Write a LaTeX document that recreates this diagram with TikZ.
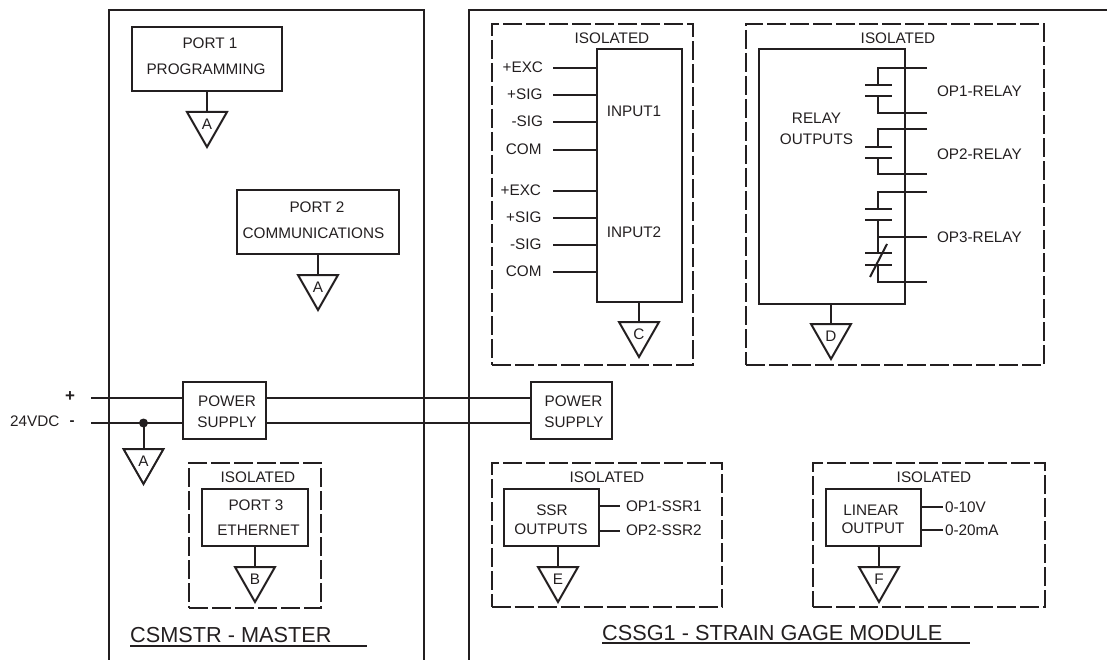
\documentclass[tikz,border=0pt]{standalone}
\usepackage{fontspec}
\setmainfont{Liberation Sans}
\definecolor{ink}{HTML}{231F20}
\tikzset{
  wire/.style={draw=ink,line width=2pt,line cap=butt},
  boxn/.style={draw=ink,line width=2pt,rectangle,inner sep=0pt,outer sep=0pt,line join=miter},
  isol/.style={boxn,dash pattern=on 19pt off 4pt},
  lab/.style={text=ink,font=\fontsize{15.3pt}{16pt}\selectfont,inner sep=0pt,outer sep=0pt},
  labr/.style={lab,anchor=east},
  labl/.style={lab,anchor=west},
  ttl/.style={text=ink,font=\fontsize{21.7pt}{23pt}\selectfont,inner sep=0pt,anchor=west},
  trishape/.style={draw=ink,line width=2pt,line join=miter},
}
% triangle: name, x, y of the top side, letter
\newcommand{\gndtri}[4]{%
  \coordinate (#1) at (#2,#3);
  \draw[trishape] (#1) ++(-20,0) -- ++(40,0) -- ++(-20,35) -- cycle;
  \node[lab] (#1lab) at ([yshift=-12pt]#1) {#4};
}
\begin{document}
\begin{tikzpicture}[x=1pt,y=-1pt]
\useasboundingbox (0,0) rectangle (1107,660);
% enclosures
\coordinate (mbl) at (108.5,660);
\coordinate (mtl) at (108.5,10);
\coordinate (mtr) at (424,10);
\coordinate (mbr) at (424,660);
\draw[wire,line join=miter] (mbl) -- (mtl) -- (mtr) -- (mbr);
\coordinate (sbl) at (468.5,660);
\coordinate (stl) at (468.5,10);
\coordinate (str) at (1107,10);
\draw[wire,line join=miter] (sbl) -- (stl) -- (str);

% Port 1
\node[boxn,minimum width=150pt,minimum height=64pt] (p1) at (207,59) {};
\node[lab] (p1a) at (210,43) {PORT 1};
\node[lab] (p1b) at (206,69.5) {PROGRAMMING};
\gndtri{t1}{207}{112}{A}
\draw[wire] (p1.south -| t1) -- (t1);
% Port 2
\node[boxn,minimum width=162pt,minimum height=64pt] (p2) at (318,222) {};
\node[lab] (p2a) at (317,207) {PORT 2};
\node[lab] (p2b) at (313.5,233) {COMMUNICATIONS};
\gndtri{t2}{318}{275}{A}
\draw[wire] (p2.south -| t2) -- (t2);

% Power
\node[boxn,minimum width=83pt,minimum height=57pt] (ps1) at (224.5,410.5) {};
\node[lab] (ps1a) at (227,401) {POWER};
\node[lab] (ps1b) at (227,422) {SUPPLY};
\node[boxn,minimum width=81pt,minimum height=57pt] (ps2) at (571.5,410.5) {};
\node[lab] (ps2a) at (573.5,401) {POWER};
\node[lab] (ps2b) at (574,422) {SUPPLY};
\coordinate (pin) at (91,398);
\coordinate (min) at (91,423);
\node[lab,font=\bfseries\fontsize{17pt}{18pt}\selectfont] (plus) at (70,396.5) {+};
\node[labr] (v24) at (59.5,421.5) {24VDC};
\node[lab,font=\bfseries\fontsize{15pt}{16pt}\selectfont] (minus) at (72,423) {-};
\draw[wire] (pin) -- (pin -| ps1.west);
\draw[wire] (min) -- (min -| ps1.west);
\draw[wire] (pin -| ps1.east) -- (pin -| ps2.west);
\draw[wire] (min -| ps1.east) -- (min -| ps2.west);
\coordinate (jn) at (143.5,423);
\fill[ink] (jn) circle (4.5);
\gndtri{t3}{143.5}{449}{A}
\draw[wire] (jn) -- (t3);

% Port 3
\node[isol,minimum width=132pt,minimum height=145pt] (i3) at (255,535.5) {};
\node[lab] (i3t) at (258,477) {ISOLATED};
\node[boxn,minimum width=106pt,minimum height=57pt] (p3) at (255,517.5) {};
\node[lab] (p3a) at (256,505) {PORT 3};
\node[lab] (p3b) at (258.5,530) {ETHERNET};
\gndtri{t4}{255}{567}{B}
\draw[wire] (p3.south -| t4) -- (t4);
\node[ttl] (mt) at (130,635) {CSMSTR - MASTER};
\coordinate (mu1) at (130,646);
\coordinate (mu2) at (367,646);
\draw[wire] (mu1) -- (mu2);

% Inputs
\node[isol,minimum width=201pt,minimum height=341pt] (i4) at (592.5,194.5) {};
\node[lab] (i4t) at (612,38) {ISOLATED};
\node[boxn,minimum width=85pt,minimum height=253pt] (inp) at (639.5,175.5) {};
\node[lab] (in1) at (634,111) {INPUT1};
\node[lab] (in2) at (634,232) {INPUT2};
\foreach \n/\y/\t/\r in {a/68/+EXC/543,b/95/+SIG/542.5,c/122/-SIG/543,d/150/COM/541.5,e/191/+EXC/541,f/218/+SIG/541.5,g/245/-SIG/541.5,h/272/COM/541.5}{
  \coordinate (w\n) at (553,\y);
  \node[labr] (l\n) at (\r,\y-0.5) {\t};
  \draw[wire] (w\n) -- (w\n -| inp.west);
}
\gndtri{t5}{639}{322}{C}
\draw[wire] (inp.south -| t5) -- (t5);

% Relays
\node[isol,minimum width=298pt,minimum height=341pt] (i5) at (895,194.5) {};
\node[lab] (i5t) at (898,38) {ISOLATED};
\node[boxn,minimum width=146pt,minimum height=255pt] (rel) at (832,176.5) {};
\node[lab] (r1) at (816.5,118) {RELAY};
\node[lab] (r2) at (816.5,139) {OUTPUTS};
\foreach \n/\ya/\pa/\pb/\yb/\t/\tt in {a/68/85/96/113/OP1-RELAY/91,b/129/147/158/174/OP2-RELAY/154}{
  \coordinate (c\n1) at (878,\ya);
  \coordinate (c\n2) at (878,\yb);
  \coordinate (e\n1) at (927,\ya);
  \coordinate (e\n2) at (927,\yb);
  \draw[wire,line join=miter] (e\n1) -- (c\n1) -- (878,\pa);
  \draw[wire,line join=miter] (e\n2) -- (c\n2) -- (878,\pb);
  \draw[wire] (865,\pa) -- (892,\pa);
  \draw[wire] (865,\pb) -- (892,\pb);
  \node[labl] (o\n) at (937,\tt) {\t};
}
\coordinate (cc1) at (878,192);
\coordinate (cc2) at (878,237);
\coordinate (cc3) at (878,282);
\coordinate (ec1) at (927,192);
\coordinate (ec2) at (927,237);
\coordinate (ec3) at (927,282);
\draw[wire,line join=miter] (ec1) -- (cc1) -- (878,209);
\draw[wire] (865,209) -- (892,209);
\draw[wire] (865,220) -- (892,220);
\draw[wire] (878,220) -- (878,253);
\draw[wire] (cc2) -- (ec2);
\draw[wire] (865,253) -- (892,253);
\draw[wire] (865,265) -- (892,265);
\draw[wire,line join=miter] (878,265) -- (cc3) -- (ec3);
\draw[wire] (870,277) -- (887,244);
\node[labl] (oc) at (937,237) {OP3-RELAY};
\gndtri{t6}{831}{324}{D}
\draw[wire] (rel.south -| t6) -- (t6);

% SSR
\node[isol,minimum width=230.5pt,minimum height=144pt] (i6) at (606.75,535) {};
\node[lab] (i6t) at (607,477) {ISOLATED};
\node[boxn,minimum width=95pt,minimum height=57pt] (ssr) at (551.5,517.5) {};
\node[lab] (s1) at (552,510) {SSR};
\node[lab] (s2) at (551,529) {OUTPUTS};
\coordinate (so1) at (620,506);
\coordinate (so2) at (620,531);
\draw[wire] (so1 -| ssr.east) -- (so1);
\draw[wire] (so2 -| ssr.east) -- (so2);
\node[labl] (sl1) at (626,506) {OP1-SSR1};
\node[labl] (sl2) at (626,530) {OP2-SSR2};
\gndtri{t7}{558}{567}{E}
\draw[wire] (ssr.south -| t7) -- (t7);

% Linear
\node[isol,minimum width=232pt,minimum height=144pt] (i7) at (929,535) {};
\node[lab] (i7t) at (934,477) {ISOLATED};
\node[boxn,minimum width=95pt,minimum height=57pt] (lin) at (873.5,517.5) {};
\node[lab] (li1) at (871,510) {LINEAR};
\node[lab] (li2) at (873,528.5) {OUTPUT};
\coordinate (lo1) at (943,507);
\coordinate (lo2) at (943,530);
\draw[wire] (lo1 -| lin.east) -- (lo1);
\draw[wire] (lo2 -| lin.east) -- (lo2);
\node[labl] (ll1) at (945,507) {0-10V};
\node[labl] (ll2) at (945,530) {0-20mA};
\gndtri{t8}{879}{567}{F}
\draw[wire] (lin.south -| t8) -- (t8);

\node[ttl] (st) at (602,633) {CSSG1 - STRAIN GAGE MODULE};
\coordinate (su1) at (602,643);
\coordinate (su2) at (970,643);
\draw[wire] (su1) -- (su2);
\end{tikzpicture}
\end{document}
